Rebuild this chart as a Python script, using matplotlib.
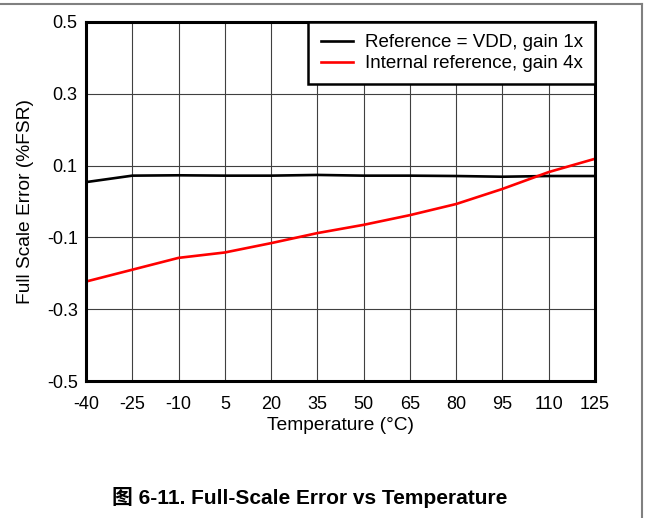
import matplotlib
matplotlib.use('Agg')
import matplotlib.pyplot as plt
from matplotlib.lines import Line2D

plt.rcParams['font.family'] = ['Liberation Sans', 'Noto Sans CJK SC', 'DejaVu Sans']
plt.rcParams['axes.unicode_minus'] = False

# temperature points (°C)
temperature = [-40, -25, -10, 5, 20, 35, 50, 65, 80, 95, 110, 125]
# full scale error (%FSR)
ref_vdd_gain1 = [0.054, 0.072, 0.073, 0.072, 0.072, 0.074, 0.072, 0.072, 0.071, 0.069, 0.071, 0.071]
int_ref_gain4 = [-0.223, -0.190, -0.157, -0.142, -0.116, -0.088, -0.065, -0.038, -0.007, 0.035, 0.082, 0.119]

x_ticks = [-40, -25, -10, 5, 20, 35, 50, 65, 80, 95, 110, 125]
y_ticks = [-0.5, -0.3, -0.1, 0.1, 0.3, 0.5]
y_tick_labels = ['-0.5', '-0.3', '-0.1', '0.1', '0.3', '0.5']

fig = plt.figure(figsize=(6.46, 5.18), dpi=100)
ax = fig.add_axes([86 / 646, 1 - 381 / 518, (595 - 86) / 646, (381 - 22) / 518])

ax.plot(temperature, ref_vdd_gain1, color='black', lw=1.9, label='Reference = VDD, gain 1x')
ax.plot(temperature, int_ref_gain4, color='#ff0000', lw=1.9, label='Internal reference, gain 4x')

ax.set_xlim(-40, 125)
ax.set_ylim(-0.5, 0.5)
ax.set_xticks(x_ticks)
ax.set_yticks(y_ticks)
ax.set_yticklabels(y_tick_labels)
ax.tick_params(length=0, labelsize=13)
ax.tick_params(axis='x', pad=11)
ax.tick_params(axis='y', pad=6)
ax.grid(True, color='#404040', lw=0.8)
for s in ax.spines.values():
    s.set_linewidth(2.2)

ax.set_xlabel('Temperature (°C)', fontsize=13.8, labelpad=2.5)
ax.set_ylabel('Full Scale Error (%FSR)', fontsize=13.8, labelpad=9)

leg = ax.legend(loc='upper right', borderaxespad=0, fontsize=13.5, fancybox=False,
                framealpha=1, edgecolor='black', handlelength=1.75, handletextpad=0.6,
                labelspacing=0.2, borderpad=0.65)
leg.get_frame().set_linewidth(1.8)

fig.text(0.48, 1 - 497 / 518, '图 6-11. Full-Scale Error vs Temperature', ha='center', va='center',
         fontsize=15, fontweight='bold')

# page frame lines
fig.add_artist(Line2D([0, 642 / 646], [1 - 3.5 / 518, 1 - 3.5 / 518], color='#808080', lw=1.5,
                      transform=fig.transFigure))
fig.add_artist(Line2D([642 / 646, 642 / 646], [0, 1 - 3.5 / 518], color='#808080', lw=1.5,
                      transform=fig.transFigure))

fig.savefig('out.png', dpi=100)
